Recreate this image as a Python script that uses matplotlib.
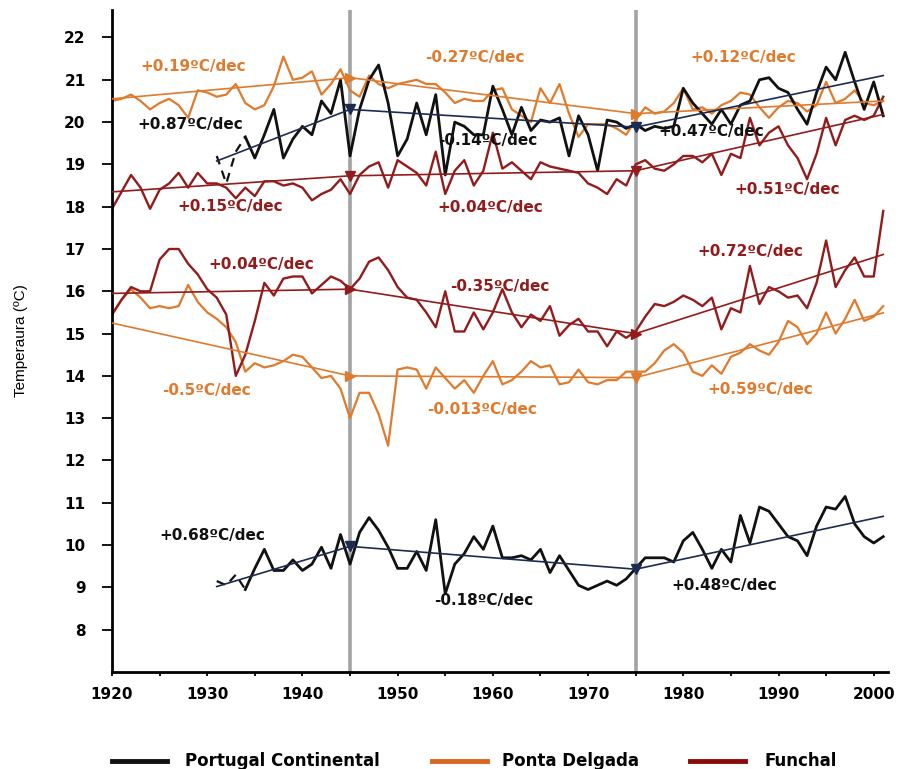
import numpy as np
import matplotlib.pyplot as plt
from matplotlib.lines import Line2D

# annual series
years = np.arange(1920, 2002)
years_pc = np.arange(1931, 2002)

pd_max = [20.5, 20.55, 20.65, 20.5, 20.3, 20.45, 20.55, 20.4, 20.1, 20.75,
          20.7, 20.6, 20.65, 20.9, 20.45, 20.3, 20.4, 20.85, 21.55, 21.0,
          21.05, 21.2, 20.65, 20.9, 21.25, 20.75, 20.6, 21.1, 20.9, 20.8,
          20.9, 20.95, 21.0, 20.9, 20.9, 20.7, 20.45, 20.55, 20.5, 20.5,
          20.75, 20.8, 20.3, 20.15, 20.0, 20.8, 20.45, 20.9, 20.2, 19.65,
          19.95, 19.95, 19.95, 19.85, 19.7, 20.05, 20.35, 20.2, 20.25, 20.45,
          20.8, 20.3, 20.35, 20.2, 20.4, 20.5, 20.7, 20.65, 20.35, 20.1,
          20.35, 20.5, 20.45, 20.25, 20.4, 20.95, 20.45, 20.55, 20.75, 20.45,
          20.4, 20.5]

pc_max = [19.2, 18.55, 19.3, 19.65, 19.15, 19.7, 20.3, 19.15, 19.6,
          19.9, 19.7, 20.5, 20.2, 21.0, 19.2, 20.3, 21.0, 21.35, 20.45,
          19.2, 19.6, 20.45, 19.7, 20.65, 18.75, 20.0, 19.9, 19.7, 19.7,
          20.85, 20.3, 19.7, 20.35, 19.8, 20.05, 20.0, 20.1, 19.2, 20.15,
          19.7, 18.85, 20.05, 20.0, 19.85, 19.95, 19.8, 19.9, 19.85, 19.9,
          20.8, 20.45, 20.2, 19.95, 20.3, 19.95, 20.4, 20.5, 21.0, 21.05,
          20.8, 20.7, 20.3, 19.95, 20.7, 21.3, 21.0, 21.65, 20.95, 20.3,
          20.95, 20.15]

fu_max = [17.95, 18.35, 18.75, 18.45, 17.95, 18.4, 18.55, 18.8, 18.45, 18.8,
          18.55, 18.55, 18.45, 18.2, 18.45, 18.25, 18.6, 18.6, 18.5, 18.55,
          18.45, 18.15, 18.3, 18.4, 18.65, 18.3, 18.75, 18.95, 19.05, 18.45,
          19.1, 18.95, 18.8, 18.5, 19.3, 18.3, 18.85, 19.1, 18.5, 18.85,
          19.75, 18.9, 19.05, 18.85, 18.65, 19.05, 18.95, 18.9, 18.85, 18.8,
          18.55, 18.45, 18.3, 18.65, 18.5, 19.0, 19.1, 18.9, 18.85, 19.0,
          19.2, 19.2, 19.05, 19.25, 18.75, 19.25, 19.15, 20.1, 19.45, 19.75,
          19.9, 19.45, 19.15, 18.65, 19.25, 20.1, 19.45, 20.05, 20.15, 20.05,
          20.15, 20.6]

fu_min = [15.45, 15.8, 16.1, 16.0, 16.0, 16.75, 17.0, 17.0, 16.65, 16.4,
          16.05, 15.85, 15.45, 14.0, 14.5, 15.3, 16.2, 15.9, 16.3, 16.35,
          16.35, 15.95, 16.15, 16.35, 16.25, 16.05, 16.3, 16.7, 16.8, 16.5,
          16.1, 15.85, 15.8, 15.5, 15.15, 16.0, 15.05, 15.05, 15.5, 15.1,
          15.5, 16.05, 15.5, 15.15, 15.45, 15.3, 15.65, 14.95, 15.2, 15.35,
          15.05, 15.05, 14.7, 15.05, 14.9, 15.05, 15.4, 15.7, 15.65, 15.75,
          15.9, 15.8, 15.65, 15.85, 15.1, 15.6, 15.5, 16.6, 15.7, 16.1,
          16.0, 15.85, 15.9, 15.6, 16.2, 17.2, 16.1, 16.5, 16.8, 16.35,
          16.35, 17.9]

pd_min = [15.45, 15.8, 16.05, 15.85, 15.6, 15.65, 15.6, 15.65, 16.15, 15.75,
          15.5, 15.35, 15.15, 14.8, 14.1, 14.3, 14.2, 14.25, 14.35, 14.5,
          14.45, 14.2, 13.95, 14.0, 13.7, 13.0, 13.6, 13.6, 13.1, 12.35,
          14.15, 14.2, 14.15, 13.7, 14.2, 13.95, 13.7, 13.9, 13.6, 14.0,
          14.35, 13.8, 13.9, 14.1, 14.35, 14.2, 14.25, 13.8, 13.85, 14.15,
          13.85, 13.8, 13.9, 13.9, 14.1, 14.1, 14.1, 14.3, 14.6, 14.75,
          14.55, 14.1, 14.0, 14.25, 14.05, 14.45, 14.55, 14.75, 14.6, 14.5,
          14.8, 15.3, 15.15, 14.75, 15.0, 15.5, 15.0, 15.35, 15.8, 15.3,
          15.4, 15.65]

pc_min = [9.15, 9.05, 9.3, 8.95, 9.45, 9.9, 9.4, 9.4, 9.65,
          9.4, 9.55, 9.95, 9.45, 10.25, 9.55, 10.3, 10.65, 10.35, 9.95,
          9.45, 9.45, 9.85, 9.4, 10.6, 8.85, 9.55, 9.8, 10.2, 9.9,
          10.45, 9.7, 9.7, 9.75, 9.65, 9.9, 9.35, 9.75, 9.4, 9.05,
          8.95, 9.05, 9.15, 9.05, 9.2, 9.45, 9.7, 9.7, 9.7, 9.6,
          10.1, 10.3, 9.9, 9.45, 9.9, 9.6, 10.7, 10.05, 10.9, 10.8,
          10.5, 10.2, 10.1, 9.75, 10.45, 10.9, 10.85, 11.15, 10.5, 10.2,
          10.05, 10.2]

# piecewise trends (values at the break years)
breaks = [1945, 1975]
trend_years = [1920, 1945, 1975, 2001]
trend_years_pc = [1931, 1945, 1975, 2001]
pd_max_trend = [20.55, 21.05, 20.2, 20.5]
pc_max_trend = [19.08, 20.3, 19.88, 21.1]
fu_max_trend = [18.35, 18.73, 18.85, 20.18]
fu_min_trend = [15.95, 16.05, 15.0, 16.87]
pd_min_trend = [15.25, 14.0, 13.96, 15.49]
pc_min_trend = [9.02, 9.97, 9.43, 10.68]

# slope labels
slope_text = ['+0.19ºC/dec', '-0.27ºC/dec', '+0.12ºC/dec',
              '+0.87ºC/dec', '-0.14ºC/dec', '+0.47ºC/dec',
              '+0.15ºC/dec', '+0.04ºC/dec', '+0.51ºC/dec',
              '+0.04ºC/dec', '-0.35ºC/dec', '+0.72ºC/dec',
              '-0.5ºC/dec', '-0.013ºC/dec', '+0.59ºC/dec',
              '+0.68ºC/dec', '-0.18ºC/dec', '+0.48ºC/dec']
slope_x = [1923.0, 1952.9, 1980.7,
           1922.7, 1954.2, 1977.4,
           1926.9, 1954.2, 1985.4,
           1930.1, 1955.5, 1981.5,
           1925.3, 1953.1, 1982.5,
           1925.0, 1953.8, 1978.7]
slope_y = [21.31, 21.52, 21.52,
           19.94, 19.56, 19.77,
           18.0, 17.98, 18.4,
           16.63, 16.11, 16.94,
           13.65, 13.2, 13.67,
           10.22, 8.69, 9.04]

station_names = ['Portugal Continental', 'Ponta Delgada', 'Funchal']

BLACK = '#111111'
NAVY = '#1c2b52'
ORANGE = '#e07a2c'
RED = '#931b1b'
slope_color = [ORANGE] * 3 + [BLACK] * 3 + [RED] * 6 + [ORANGE] * 3 + [BLACK] * 3

fig = plt.figure(figsize=(8.99, 7.69), dpi=100)
ax = fig.add_axes([112 / 899, 97 / 769, 776 / 899, 662 / 769])

for b in breaks:
    ax.axvline(b, color='#a3a3a3', lw=2.6, zorder=0)

# data lines
ax.plot(years, pd_max, color=ORANGE, lw=1.6)
ax.plot(years, pd_min, color=ORANGE, lw=1.6)
ax.plot(years, fu_max, color=RED, lw=1.7)
ax.plot(years, fu_min, color=RED, lw=1.7)
n_dash = 4  # 1931-1934 drawn dashed
for series in (pc_max, pc_min):
    ax.plot(years_pc[:n_dash], series[:n_dash], color=BLACK, lw=1.6, ls=(0, (4, 3)))
    ax.plot(years_pc[n_dash - 1:], series[n_dash - 1:], color=BLACK, lw=2.0)

# trend lines with break markers
trends = [
    (trend_years, pd_max_trend, ORANGE, ['>', '>']),
    (trend_years_pc, pc_max_trend, NAVY, ['v', 'v']),
    (trend_years, fu_max_trend, RED, ['v', 'v']),
    (trend_years, fu_min_trend, RED, ['>', '>']),
    (trend_years, pd_min_trend, ORANGE, ['>', 'v']),
    (trend_years_pc, pc_min_trend, NAVY, ['v', 'v']),
]
for ty, tv, c, mk in trends:
    ax.plot(ty, tv, color=c, lw=1.2, zorder=3)
    for i, m in enumerate(mk):
        ax.plot(ty[i + 1], tv[i + 1], marker=m, color=c, ms=7, zorder=4)

for t, x, y, c in zip(slope_text, slope_x, slope_y, slope_color):
    ax.text(x, y, t, color=c, fontsize=11, fontweight='bold', va='center', ha='left', zorder=5)

ax.set_xlim(1920, 2001.5)
ax.set_ylim(7, 22.65)
ax.set_xticks(range(1920, 2001, 10))
ax.set_xticks(range(1925, 2001, 10), minor=True)
ax.set_yticks(range(8, 23))
for lab in ax.get_xticklabels() + ax.get_yticklabels():
    lab.set_fontweight('bold')
ax.tick_params(axis='y', direction='out', length=7, width=1.3, pad=12, labelsize=11)
ax.tick_params(axis='x', which='both', direction='out', length=3, width=1.3, pad=8, labelsize=11)

for s in ('top', 'right'):
    ax.spines[s].set_visible(False)
for s in ('left', 'bottom'):
    ax.spines[s].set_linewidth(2)
    ax.spines[s].set_color('black')

ax.set_ylabel('Temperaura (ºC)', family='Liberation Sans', fontsize=11, labelpad=26)

# legend along the bottom
leg_y = 1 - 761 / 769
leg_colors = [BLACK, '#d9651f', '#8b0a0a']
leg_line_x = [112, 432, 690]
leg_text_x = [185, 502, 765]
for name, c, lx, tx in zip(station_names, leg_colors, leg_line_x, leg_text_x):
    fig.add_artist(Line2D([lx / 899, (lx + 55) / 899], [leg_y, leg_y], color=c, lw=3.5,
                          transform=fig.transFigure))
    fig.text(tx / 899, leg_y, name, fontsize=12, fontweight='bold', va='center', ha='left')

fig.savefig('out.png', dpi=100)
